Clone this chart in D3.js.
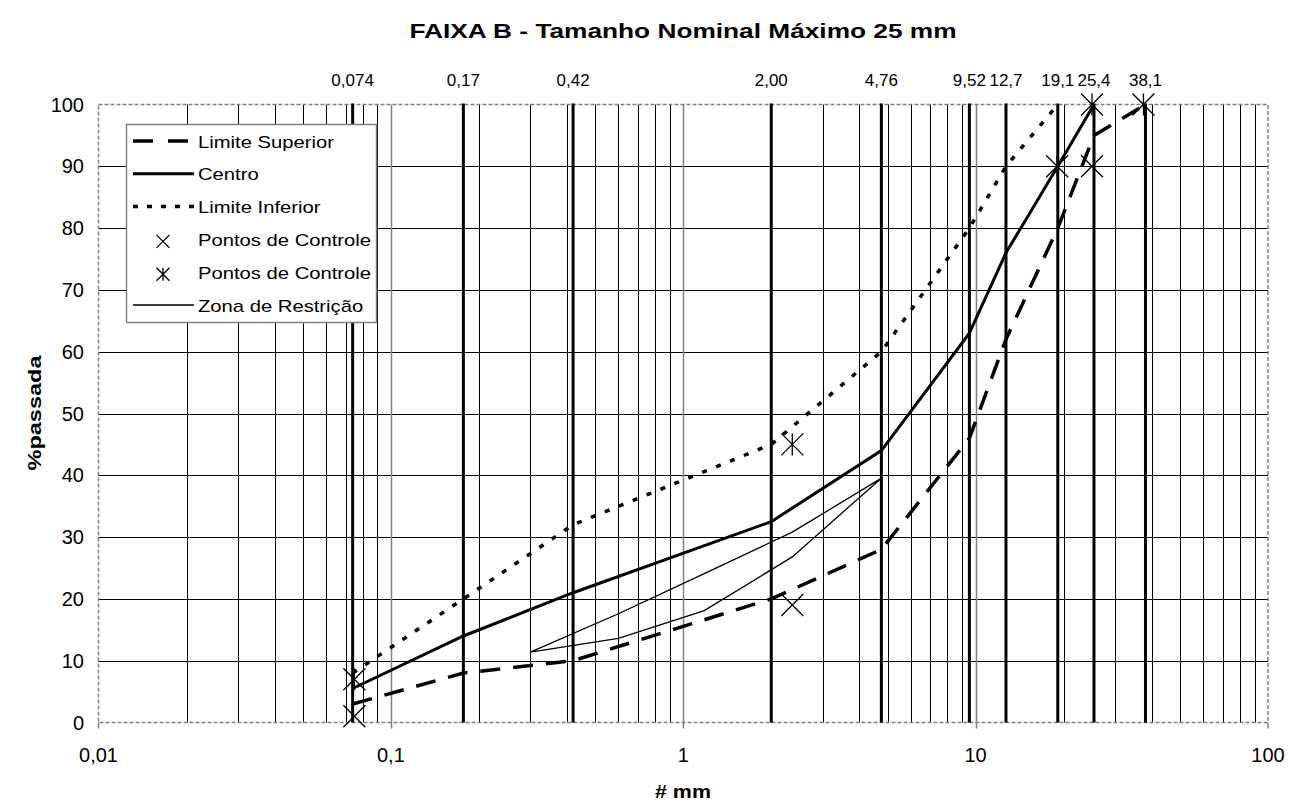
<!DOCTYPE html>
<html lang="pt">
<head>
<meta charset="utf-8">
<title>Faixa B</title>
<script src="https://cdnjs.cloudflare.com/ajax/libs/d3/7.8.5/d3.min.js"></script>
<style>
  body { margin: 0; background: #fff; }
  svg { font-family: Arial, "Liberation Sans", sans-serif; }
</style>
</head>
<body>
<div id="chart"></div>
<script>
// peneiras (mm) e rótulos do topo
var sieves = [0.074, 0.177, 0.42, 2.0, 4.76, 9.52, 12.7, 19.1, 25.4, 38.1];
var sieveLabels = ["0,074", "0,17", "0,42", "2,00", "4,76", "9,52", "12,7", "19,1", "25,4", "38,1"];

// faixa
var supX = [0.074, 0.177, 0.42, 2.0, 4.76, 9.52, 12.7, 19.1, 25.4, 38.1];
var supY = [3, 8, 10, 20, 28, 46, 62, 80, 95, 100];
var centroX = [0.074, 0.177, 0.42, 2.0, 4.76, 9.52, 12.7, 19.1, 25.4];
var centroY = [5.5, 14, 21, 32.5, 44, 63, 76, 90, 100];
var infX = [0.074, 0.177, 0.42, 2.0, 4.76, 9.52, 12.7, 19.1];
var infY = [8, 20, 32, 45, 60, 80, 90, 100];

// pontos de controle
var ctrl1X = [0.075, 2.36, 25];
var ctrl1Y = [1, 19, 90];
var ctrl2X = [0.075, 2.36, 19, 25, 37.5];
var ctrl2Y = [7, 45, 90, 100, 100];

// zona de restrição
var zonaX = [0.3, 0.6, 1.18, 2.36, 4.75, 2.36, 1.18, 0.6, 0.3];
var zonaY = [11.4, 13.6, 18.1, 26.8, 39.5, 30.8, 24.1, 17.6, 11.4];

var xTicks = [0.01, 0.1, 1, 10, 100];
var xTickLabels = ["0,01", "0,1", "1", "10", "100"];
var yTicks = [0, 10, 20, 30, 40, 50, 60, 70, 80, 90, 100];

var W = 1290, H = 803;
var pL = 98.5, pR = 1268, pT = 104.5, pB = 722.5;

var svg = d3.select("#chart").append("svg")
    .attr("width", W).attr("height", H);

var x = d3.scaleLog().domain([0.01, 100]).range([pL, pR]);
var y = d3.scaleLinear().domain([0, 100]).range([pB, pT]);

function zip(a, b) { return a.map(function (v, i) { return [v, b[i]]; }); }
function px(v) { return Math.round(v) + 0.5; }

// grade vertical (log)
var minor = x.ticks().filter(function (d) { return xTicks.indexOf(d) < 0; });
svg.append("g").selectAll("line").data(minor).enter().append("line")
    .attr("x1", function (d) { return px(x(d)); })
    .attr("x2", function (d) { return px(x(d)); })
    .attr("y1", pT).attr("y2", pB)
    .attr("stroke", "#000").attr("stroke-width", 1);

// grade horizontal
svg.append("g").selectAll("line").data(yTicks.slice(1, -1)).enter().append("line")
    .attr("x1", pL).attr("x2", pR)
    .attr("y1", function (d) { return px(y(d)); })
    .attr("y2", function (d) { return px(y(d)); })
    .attr("stroke", "#000").attr("stroke-width", 1);

// décadas (cinza, com traço abaixo do eixo)
svg.append("g").selectAll("line").data(xTicks.slice(1, -1)).enter().append("line")
    .attr("x1", function (d) { return px(x(d)); })
    .attr("x2", function (d) { return px(x(d)); })
    .attr("y1", pT).attr("y2", pB + 6)
    .attr("stroke", "#808080").attr("stroke-width", 1.5);

// borda tracejada
svg.append("rect")
    .attr("x", pL).attr("y", pT)
    .attr("width", pR - pL).attr("height", pB - pT)
    .attr("fill", "none").attr("stroke", "#808080")
    .attr("stroke-width", 1.5).attr("stroke-dasharray", "4,2");
svg.append("g").selectAll("line").data([0.01, 100]).enter().append("line")
    .attr("x1", x).attr("x2", x)
    .attr("y1", pB).attr("y2", pB + 6)
    .attr("stroke", "#808080").attr("stroke-width", 1.5);

// linhas das peneiras
svg.append("g").selectAll("line").data(sieves).enter().append("line")
    .attr("x1", x).attr("x2", x)
    .attr("y1", pT - 1).attr("y2", pB)
    .attr("stroke", "#000").attr("stroke-width", 3);

svg.append("g").selectAll("text").data(sieves).enter().append("text")
    .attr("x", x).attr("y", 86)
    .attr("text-anchor", "middle").attr("font-size", 17)
    .text(function (d, i) { return sieveLabels[i]; });

// eixos
svg.append("g").selectAll("text").data(xTicks).enter().append("text")
    .attr("x", x).attr("y", 762)
    .attr("text-anchor", "middle").attr("font-size", 20)
    .text(function (d, i) { return xTickLabels[i]; });

svg.append("g").selectAll("text").data(yTicks).enter().append("text")
    .attr("x", 84).attr("y", function (d) { return y(d) + 7; })
    .attr("text-anchor", "end").attr("font-size", 20)
    .text(function (d) { return d; });

var line = d3.line()
    .x(function (d) { return x(d[0]); })
    .y(function (d) { return y(d[1]); });

// zona de restrição
svg.append("path").attr("d", line(zip(zonaX, zonaY)))
    .attr("fill", "none").attr("stroke", "#000").attr("stroke-width", 1.3);

// séries
svg.append("path").attr("d", line(zip(infX, infY)))
    .attr("fill", "none").attr("stroke", "#000").attr("stroke-width", 3.5)
    .attr("stroke-dasharray", "5,10");
svg.append("path").attr("d", line(zip(supX, supY)))
    .attr("fill", "none").attr("stroke", "#000").attr("stroke-width", 3.5)
    .attr("stroke-dasharray", "20,13");
svg.append("path").attr("d", line(zip(centroX, centroY)))
    .attr("fill", "none").attr("stroke", "#000").attr("stroke-width", 3);

function cross(g, cx, cy, r, star) {
    g.append("path")
        .attr("d", "M" + (cx - r) + "," + (cy - r) + "L" + (cx + r) + "," + (cy + r) +
            "M" + (cx - r) + "," + (cy + r) + "L" + (cx + r) + "," + (cy - r) +
            (star ? "M" + cx + "," + (cy - r) + "L" + cx + "," + (cy + r) : ""))
        .attr("stroke", "#000").attr("stroke-width", 1.3).attr("fill", "none");
}
var marks = svg.append("g");
zip(ctrl1X, ctrl1Y).forEach(function (d) { cross(marks, x(d[0]), y(d[1]), 11, false); });
zip(ctrl2X, ctrl2Y).forEach(function (d) { cross(marks, x(d[0]), y(d[1]), 11, true); });

// legenda
var lg = svg.append("g");
lg.append("rect").attr("x", 126.5).attr("y", 124.5).attr("width", 250).attr("height", 198)
    .attr("fill", "#fff").attr("stroke", "#808080").attr("stroke-width", 1.5);
var items = [
    { name: "Limite Superior", type: "line", w: 3.5, dash: "20,15" },
    { name: "Centro", type: "line", w: 3, dash: null },
    { name: "Limite Inferior", type: "line", w: 3.5, dash: "5,9" },
    { name: "Pontos de Controle", type: "x" },
    { name: "Pontos de Controle", type: "star" },
    { name: "Zona de Restrição", type: "line", w: 1.3, dash: null }
];
items.forEach(function (it, i) {
    var cy = 141 + i * 32.8;
    if (it.type === "line") {
        lg.append("line").attr("x1", 133).attr("x2", 194).attr("y1", cy).attr("y2", cy)
            .attr("stroke", "#000").attr("stroke-width", it.w)
            .attr("stroke-dasharray", it.dash);
    } else {
        cross(lg, 163, cy + 2, 6.5, it.type === "star");
    }
    lg.append("text").attr("transform", "translate(198," + (cy + 6.5) + ") scale(1.19,1)")
        .attr("font-size", 17)
        .text(it.name);
});

// títulos
svg.append("text").attr("x", 683).attr("y", 38)
    .attr("text-anchor", "middle").attr("font-size", 20).attr("font-weight", "bold")
    .attr("textLength", 547).attr("lengthAdjust", "spacingAndGlyphs")
    .text("FAIXA B - Tamanho Nominal Máximo 25 mm");
svg.append("text").attr("x", 683).attr("y", 798)
    .attr("text-anchor", "middle").attr("font-size", 18).attr("font-weight", "bold")
    .attr("textLength", 56).attr("lengthAdjust", "spacingAndGlyphs")
    .text("# mm");
svg.append("text").attr("transform", "translate(41,413) rotate(-90)")
    .attr("text-anchor", "middle").attr("font-size", 18).attr("font-weight", "bold")
    .attr("textLength", 115).attr("lengthAdjust", "spacingAndGlyphs")
    .text("%passada");
</script>
</body>
</html>
